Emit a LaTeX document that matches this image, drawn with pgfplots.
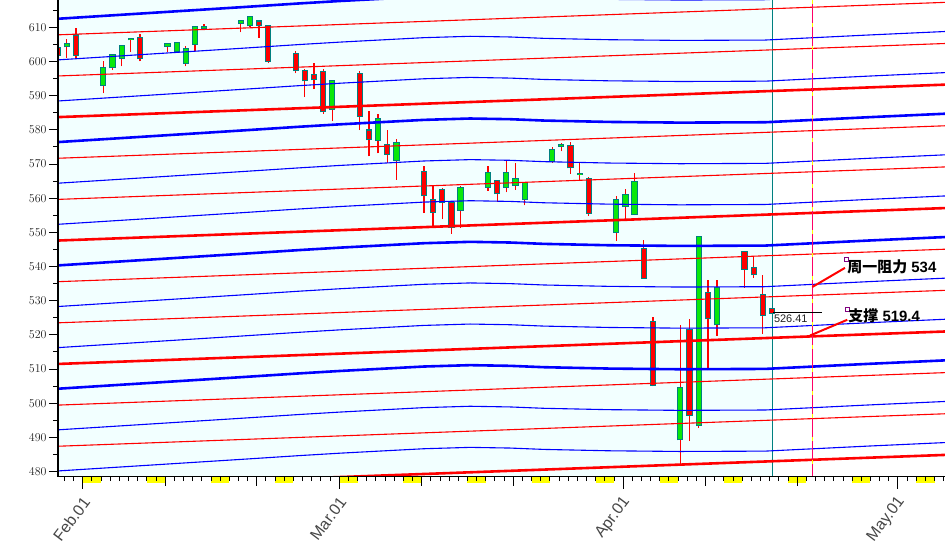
\documentclass[border=0pt]{standalone}
\usepackage{pgfplots}
\pgfplotsset{compat=1.18}
\usepackage{pgfplotstable}
\usepackage{fontspec}
\setmainfont{Liberation Sans}
\newfontfamily\cjk{Noto Sans CJK SC}

\definecolor{bgcyan}{RGB}{242,255,255}
\definecolor{cred}{RGB}{255,0,0}
\definecolor{cblue}{RGB}{0,0,255}
\definecolor{cgreen}{RGB}{10,232,10}
\definecolor{cteal}{RGB}{0,128,128}
\definecolor{cpink}{RGB}{255,0,102}
\definecolor{cyel}{RGB}{255,255,0}
\definecolor{cpurple}{RGB}{128,0,128}
\definecolor{labgray}{RGB}{70,70,70}
\definecolor{ylab}{RGB}{35,35,35}

% down (red) candles: x o h l c
\pgfplotstableread{
x o h l c
-2.75 603.8 604.1 599.2 602.0
-0.75 607.6 609.9 601.1 602.0
6.25 607.0 608.1 600.0 601.0
19.25 611.7 611.8 607.0 610.8
20.25 610.3 610.4 599.5 600.2
23.25 602.1 603.1 596.5 597.5
24.25 597.2 597.9 589.6 594.5
25.25 596.0 599.6 591.9 594.8
26.25 596.9 597.9 584.7 585.4
30.25 596.2 597.3 579.9 584.1
31.25 579.8 585.4 572.2 577.2
33.25 575.5 580.0 570.2 573.0
37.25 567.6 569.5 555.6 560.8
38.25 559.4 563.9 551.9 556.0
39.25 562.3 563.0 553.8 559.0
40.25 558.5 559.0 549.6 551.7
45.25 564.9 565.1 559.0 561.4
53.25 575.2 576.3 567.2 569.0
55.25 565.5 566.3 554.9 555.8
61.25 545.2 547.8 536.4 536.7
62.25 523.8 525.3 504.9 505.3
66.25 521.5 524.5 488.9 496.6
68.25 532.2 536.0 509.6 524.8
72.25 544.1 544.3 533.8 539.4
73.25 539.6 543.0 536.7 537.7
74.25 531.6 537.5 520.2 525.9
75.25 527.5 527.5 526.4 526.4
}\downtab

% up (green) candles: x o h l c
\pgfplotstableread{
x o h l c
-1.75 604.4 606.6 600.9 605.2
2.25 593.1 600.2 590.7 598.1
3.25 598.3 602.2 597.5 601.9
4.25 601.0 604.5 598.6 604.4
5.25 606.5 606.6 602.7 606.6
9.25 604.5 605.4 602.9 605.1
10.25 603.1 605.6 603.0 605.4
11.25 599.6 604.6 598.6 603.7
12.25 605.1 610.1 603.2 610.0
13.25 609.9 611.0 609.3 610.0
17.25 611.2 612.1 608.5 611.9
18.25 610.6 613.2 610.0 613.1
27.25 586.1 594.6 582.5 594.4
32.25 577.0 584.6 573.1 583.1
34.25 571.1 577.3 565.4 576.1
41.25 556.5 563.6 551.4 562.9
44.25 563.3 569.5 562.1 567.3
46.25 563.3 570.9 561.7 567.3
47.25 563.8 570.4 562.5 565.6
48.25 559.7 564.3 557.9 564.3
51.25 570.9 575.0 570.3 574.1
52.25 575.3 576.1 573.7 575.5
54.25 567.1 570.6 565.1 567.2
58.25 550.1 560.7 547.5 559.4
59.25 557.6 562.6 553.8 560.9
60.25 555.3 567.3 555.0 564.7
65.25 489.4 522.9 481.6 504.3
67.25 493.6 548.6 492.8 548.6
69.25 523.1 536.0 519.7 533.8
}\uptab

% blue channel lines
\pgfplotstableread{
x b0 b1 b2 b3 b4 b5 b6 b7 b8 b9 b10 b11
-2.70 612.50 600.47 588.44 576.41 564.38 552.35 540.32 528.29 516.26 504.23 492.20 480.17
7.35 614.20 602.17 590.14 578.11 566.08 554.05 542.02 529.99 517.96 505.93 493.90 481.87
17.39 615.90 603.87 591.84 579.81 567.78 555.75 543.72 531.69 519.66 507.63 495.60 483.57
23.72 617.00 604.97 592.94 580.91 568.88 556.85 544.82 532.79 520.76 508.73 496.70 484.67
28.09 617.70 605.67 593.64 581.61 569.58 557.55 545.52 533.49 521.46 509.43 497.40 485.37
37.26 619.00 606.97 594.94 582.91 570.88 558.85 546.82 534.79 522.76 510.73 498.70 486.67
42.29 619.40 607.37 595.34 583.31 571.28 559.25 547.22 535.19 523.16 511.13 499.10 487.07
46.65 619.20 607.17 595.14 583.11 571.08 559.05 547.02 534.99 522.96 510.93 498.90 486.87
50.36 618.80 606.77 594.74 582.71 570.68 558.65 546.62 534.59 522.56 510.53 498.50 486.47
57.45 618.40 606.37 594.34 582.31 570.28 558.25 546.22 534.19 522.16 510.13 498.10 486.07
65.21 618.20 606.17 594.14 582.11 570.08 558.05 546.02 533.99 521.96 509.93 497.90 485.87
74.49 618.30 606.27 594.24 582.21 570.18 558.15 546.12 534.09 522.06 510.03 498.00 485.97
78.31 618.80 606.77 594.74 582.71 570.68 558.65 546.62 534.59 522.56 510.53 498.50 486.47
85.95 619.80 607.77 595.74 583.71 571.68 559.65 547.62 535.59 523.56 511.53 499.50 487.47
94.14 620.80 608.77 596.74 584.71 572.68 560.65 548.62 536.59 524.56 512.53 500.50 488.47
}\bluetab

\pgfplotsset{candle/.style={draw=none, mark=none, forget plot,
  error bars/.cd, y dir=plus, y explicit, error mark=none}}

\begin{document}
\begin{tikzpicture}
\useasboundingbox (0,0) rectangle (945bp,549bp);
\begin{axis}[
  at={(58bp,72.5bp)}, anchor=south west,
  scale only axis, width=887bp, height=476.5bp,
  xmin=-2.70, xmax=94.14, ymin=478.54, ymax=617.99,
  axis x line*=bottom, axis y line*=left,
  axis line style={black, line width=1.3bp},
  axis on top, clip mode=individual,
  tick align=outside,
  major tick length=9bp, minor tick length=4.5bp,
  xtick={9,19,37,47,68,78}, xticklabels={},
  xtick style={black, line width=0.9bp},
  minor xtick={-2,-1,...,94},
  extra x ticks={0,28,59,89},
  extra x tick labels={Feb.01,Mar.01,Apr.01,May.01},
  extra x tick style={major tick length=12bp, tick style={cred, line width=1.2bp}},
  xticklabel style={font=\fontsize{16}{16}\selectfont, text=labgray, rotate=53, anchor=east, xshift=-3bp, yshift=-9.5bp},
  ytick={480,490,...,610},
  ytick style={black, line width=0.9bp},
  extra y ticks={485,495,...,615},
  extra y tick labels={},
  extra y tick style={major tick length=4.5bp, tick style={cred, line width=0.9bp}},
  yticklabel style={font=\fontsize{12.5}{12.5}\selectfont, text=ylab, xshift=1bp},
]
% background of the charted period
\fill[bgcyan] (axis cs:-2.70,478.54) rectangle (axis cs:75.3,617.99);
% weekend marks under the axis
\pgfplotsinvokeforeach{0,7,14,21,28,35,42,49,56,63,70,77,84,91}{
  \fill[cyel] (axis cs:#1,478.54) rectangle ++(18.32bp,-6.6bp);
}
% cursor line
\draw[cteal, line width=1.3bp] (axis cs:75.3,478.54) -- (axis cs:75.3,617.99);

% wicks
\addplot[candle, error bar style={draw=cred, line width=1.3bp}]
  table[x=x, y=l, y error expr=\thisrow{h}-\thisrow{l}] {\downtab};
\addplot[candle, error bar style={draw=cred, line width=1.3bp}]
  table[x=x, y=l, y error expr=\thisrow{h}-\thisrow{l}] {\uptab};
% bodies: teal frame, then fill
\addplot[candle, error bar style={draw=cteal, line width=6.2bp}]
  table[x=x, y expr=\thisrow{c}-0.3, y error expr=\thisrow{o}-\thisrow{c}+0.6] {\downtab};
\addplot[candle, error bar style={draw=cred, line width=4.2bp}]
  table[x=x, y=c, y error expr=\thisrow{o}-\thisrow{c}] {\downtab};
\addplot[candle, error bar style={draw=cteal, line width=6.2bp}]
  table[x=x, y expr=\thisrow{o}-0.3, y error expr=\thisrow{c}-\thisrow{o}+0.6] {\uptab};
\addplot[candle, error bar style={draw=cgreen, line width=4.2bp}]
  table[x=x, y=o, y error expr=\thisrow{c}-\thisrow{o}] {\uptab};

% red channel lines (straight)
\addplot[cred, line width=1.1bp] coordinates {(-2.70,607.80) (94.14,617.30)};
\addplot[cred, line width=1.1bp] coordinates {(-2.70,595.76) (94.14,605.26)};
\addplot[cred, line width=2.6bp] coordinates {(-2.70,583.72) (94.14,593.22)};
\addplot[cred, line width=1.1bp] coordinates {(-2.70,571.68) (94.14,581.18)};
\addplot[cred, line width=1.1bp] coordinates {(-2.70,559.64) (94.14,569.14)};
\addplot[cred, line width=2.6bp] coordinates {(-2.70,547.60) (94.14,557.10)};
\addplot[cred, line width=1.1bp] coordinates {(-2.70,535.56) (94.14,545.06)};
\addplot[cred, line width=1.1bp] coordinates {(-2.70,523.52) (94.14,533.02)};
\addplot[cred, line width=2.6bp] coordinates {(-2.70,511.48) (94.14,520.98)};
\addplot[cred, line width=1.1bp] coordinates {(-2.70,499.44) (94.14,508.94)};
\addplot[cred, line width=1.1bp] coordinates {(-2.70,487.40) (94.14,496.90)};
\addplot[cred, line width=2.6bp] coordinates {(-2.70,475.36) (94.14,484.86)};

% blue channel lines (curved)
\addplot[cblue, line width=2.6bp] table[x=x, y=b0] {\bluetab};
\addplot[cblue, line width=1.1bp] table[x=x, y=b1] {\bluetab};
\addplot[cblue, line width=1.1bp] table[x=x, y=b2] {\bluetab};
\addplot[cblue, line width=2.6bp] table[x=x, y=b3] {\bluetab};
\addplot[cblue, line width=1.1bp] table[x=x, y=b4] {\bluetab};
\addplot[cblue, line width=1.1bp] table[x=x, y=b5] {\bluetab};
\addplot[cblue, line width=2.6bp] table[x=x, y=b6] {\bluetab};
\addplot[cblue, line width=1.1bp] table[x=x, y=b7] {\bluetab};
\addplot[cblue, line width=1.1bp] table[x=x, y=b8] {\bluetab};
\addplot[cblue, line width=2.6bp] table[x=x, y=b9] {\bluetab};
\addplot[cblue, line width=1.1bp] table[x=x, y=b10] {\bluetab};
\addplot[cblue, line width=1.1bp] table[x=x, y=b11] {\bluetab};

% dashed marker line for next session
\draw[cpink, line width=1.3bp] (axis cs:79.65,478.54) -- (axis cs:79.65,617.99);
\draw[cyel, line width=1.3bp, dash pattern=on 4bp off 19bp] (axis cs:79.65,617.99) -- (axis cs:79.65,478.54);

% last close
\draw[black, line width=0.9bp] (axis cs:75.33,526.41) -- (axis cs:80.68,526.41);
\node[anchor=north west, inner sep=0pt, font=\fontsize{11}{11}\selectfont, text=ylab] at (axis cs:75.45,526.0) {526.41};

% cursor diamond
\fill[cred] (axis cs:75.3,615.7) ++(0,5bp) -- ++(5bp,-5bp) -- ++(-5bp,-5bp) -- cycle;
\fill[cblue] (axis cs:75.3,615.7) ++(0,5bp) -- ++(-5bp,-5bp) -- ++(5bp,-5bp) -- cycle;
\draw[cteal, line width=0.6bp] (axis cs:75.3,615.7) ++(0,5bp) -- ++(5bp,-5bp) -- ++(-5bp,-5bp) -- ++(-5bp,5bp) -- cycle;

% annotations
\draw[cred, line width=2bp] (axis cs:79.65,534.0) -- (axis cs:83.22,539.6);
\draw[cred, line width=2bp] (axis cs:79.40,519.8) -- (axis cs:83.47,524.4);
\draw[cpurple, line width=0.8bp] (axis cs:83.36,542.0) ++(-2bp,-2bp) rectangle ++(4bp,4bp);
\draw[cpurple, line width=0.8bp] (axis cs:83.51,527.4) ++(-2bp,-2bp) rectangle ++(4bp,4bp);
\node[anchor=west, inner sep=0pt, font=\fontsize{15}{15}\selectfont] at (axis cs:83.47,539.8) {{\cjk\bfseries 周一阻力} \textbf{534}};
\node[anchor=west, inner sep=0pt, font=\fontsize{15}{15}\selectfont] at (axis cs:83.58,525.5) {{\cjk\bfseries 支撑} \textbf{519.4}};
\end{axis}
\end{tikzpicture}
\end{document}
